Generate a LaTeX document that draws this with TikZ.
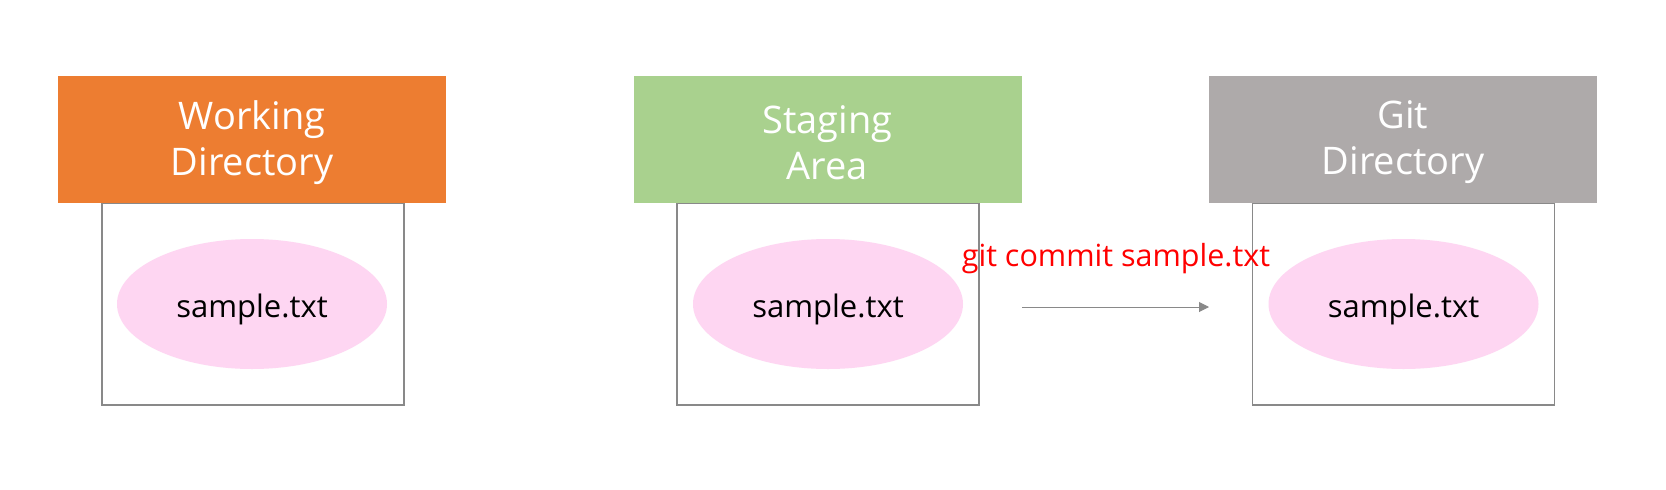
\documentclass[tikz,border=0pt]{standalone}
\usepackage{fontspec}
\setmainfont{Open Sans}
\usetikzlibrary{shapes.geometric,arrows.meta}
\definecolor{hdorange}{HTML}{ED7D31}
\definecolor{hdgreen}{HTML}{A9D18E}
\definecolor{hdgray}{HTML}{AEAAAA}
\definecolor{filepink}{HTML}{FED6F2}
\definecolor{linegray}{HTML}{898989}
\definecolor{cmdred}{HTML}{FF0000}
\tikzset{
  areabox/.style={draw=linegray, line width=1.5pt, fill=white, minimum width=302pt, minimum height=202pt, inner sep=0pt},
  headbox/.style={minimum width=388pt, minimum height=127pt, inner sep=0pt},
  headtext/.style={text=white, align=center, inner sep=0pt, font=\fontsize{38}{46}\selectfont},
  fileell/.style={ellipse, fill=filepink, minimum width=270pt, minimum height=130pt, inner sep=0pt,
    text=black, font=\fontsize{31}{38}\selectfont, text height=26pt, text depth=0pt},
  cmdlabel/.style={text=cmdred, inner sep=0pt, anchor=base, font=\fontsize{30.5}{37}\selectfont},
  arr/.style={draw=linegray, line width=1pt, -{Triangle[length=10pt,width=10pt]}}
}
\begin{document}
\begin{tikzpicture}[x=1pt,y=-1pt]
\useasboundingbox (0,0) rectangle (1666,490);
% white boxes
\node[areabox] (wdbox) at (253,304) {};
\node[areabox] (sabox) at (828,304) {};
\node[areabox] (gdbox) at (1403.5,304) {};
% headers
\node[headbox, fill=hdorange] (wdhead) at (252,139.5) {};
\node[headbox, fill=hdgreen] (sahead) at (827.5,139.5) {};
\node[headbox, fill=hdgray] (gdhead) at (1403,139.5) {};
\node[headtext] (wdtitle) at ([yshift=-2.9pt]wdhead.center) {Working\\Directory};
\node[headtext] (satitle) at ([yshift=-2.9pt]sahead.center) {Staging\\Area};
\node[headtext] (gdtitle) at ([yshift=-2.9pt]gdhead.center) {Git\\Directory};
% files
\node[fileell] (wdfile) at (252,304) {sample.txt};
\node[fileell] (safile) at (828,304) {sample.txt};
\node[fileell] (gdfile) at (1403.5,304) {sample.txt};
% arrow
\coordinate (cstart) at (1022,307);
\coordinate (cend) at (1209,307);
\draw[arr] (cstart) -- (cend);
\node[cmdlabel] (cmd) at (1116,266) {git commit sample.txt};
\end{tikzpicture}
\end{document}
